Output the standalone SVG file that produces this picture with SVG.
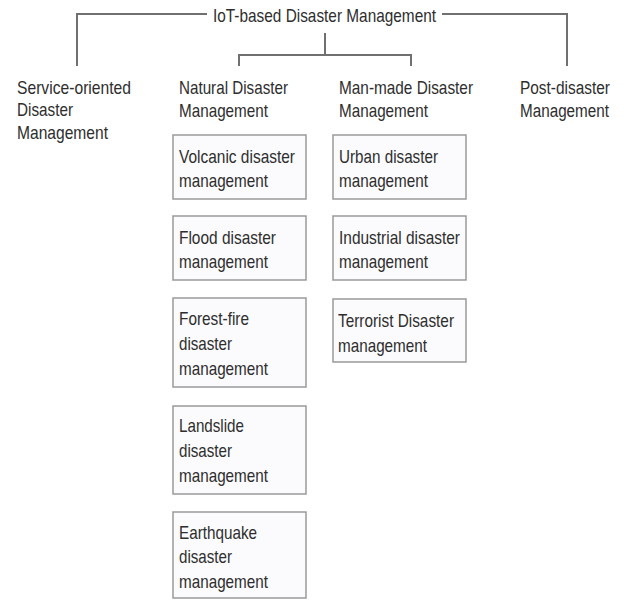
<svg xmlns="http://www.w3.org/2000/svg" width="629" height="601" viewBox="0 0 629 601">
<style>
  .t { font-family: "Liberation Sans", Arial, sans-serif; font-size: 19px; fill: #2e2e2e; }
  .s { font-size: 18px; }
  .c { fill: none; stroke: #707070; stroke-width: 2; }
  .b { fill: #fbfbfd; stroke: #9a9a9a; stroke-width: 1.5; }
</style>
<rect width="629" height="601" fill="#ffffff"/>
<g id="connectors">
  <polyline class="c" points="77,66 77,14 207,14"/>
  <polyline class="c" points="442,14 567,14 567,66"/>
  <line class="c" x1="325" y1="33" x2="325" y2="55"/>
  <polyline class="c" points="239,66 239,55 411,55 411,66"/>
</g>
<g id="root">
  <text class="t" x="213" y="22" textLength="223" lengthAdjust="spacingAndGlyphs">IoT-based Disaster Management</text>
</g>
<g id="service">
  <text class="t" x="17" y="94" textLength="114" lengthAdjust="spacingAndGlyphs">Service-oriented</text>
  <text class="t" x="17" y="116" textLength="56" lengthAdjust="spacingAndGlyphs">Disaster</text>
  <text class="t" x="17" y="139" textLength="91" lengthAdjust="spacingAndGlyphs">Management</text>
</g>
<g id="natural">
  <text class="t" x="179" y="94" textLength="109" lengthAdjust="spacingAndGlyphs">Natural Disaster</text>
  <text class="t" x="179" y="117" textLength="89" lengthAdjust="spacingAndGlyphs">Management</text>
</g>
<g id="manmade">
  <text class="t" x="339" y="94" textLength="134" lengthAdjust="spacingAndGlyphs">Man-made Disaster</text>
  <text class="t" x="339" y="117" textLength="89" lengthAdjust="spacingAndGlyphs">Management</text>
</g>
<g id="post">
  <text class="t s" x="520" y="94" textLength="90" lengthAdjust="spacingAndGlyphs">Post-disaster</text>
  <text class="t s" x="520" y="117" textLength="89" lengthAdjust="spacingAndGlyphs">Management</text>
</g>
<g id="volcanic">
  <rect class="b" x="173" y="135" width="133" height="64"/>
  <text class="t" x="179" y="163" textLength="116" lengthAdjust="spacingAndGlyphs">Volcanic disaster</text>
  <text class="t" x="179" y="187" textLength="89" lengthAdjust="spacingAndGlyphs">management</text>
</g>
<g id="flood">
  <rect class="b" x="173" y="216" width="133" height="64"/>
  <text class="t" x="179" y="244" textLength="97" lengthAdjust="spacingAndGlyphs">Flood disaster</text>
  <text class="t" x="179" y="268" textLength="89" lengthAdjust="spacingAndGlyphs">management</text>
</g>
<g id="forest">
  <rect class="b" x="173" y="298" width="133" height="89"/>
  <text class="t" x="179" y="325" textLength="70" lengthAdjust="spacingAndGlyphs">Forest-fire</text>
  <text class="t" x="179" y="350" textLength="53" lengthAdjust="spacingAndGlyphs">disaster</text>
  <text class="t" x="179" y="375" textLength="89" lengthAdjust="spacingAndGlyphs">management</text>
</g>
<g id="landslide">
  <rect class="b" x="173" y="406" width="133" height="88"/>
  <text class="t" x="179" y="432" textLength="65" lengthAdjust="spacingAndGlyphs">Landslide</text>
  <text class="t" x="179" y="457" textLength="53" lengthAdjust="spacingAndGlyphs">disaster</text>
  <text class="t" x="179" y="482" textLength="89" lengthAdjust="spacingAndGlyphs">management</text>
</g>
<g id="earthquake">
  <rect class="b" x="173" y="512" width="133" height="86"/>
  <text class="t" x="179" y="539" textLength="78" lengthAdjust="spacingAndGlyphs">Earthquake</text>
  <text class="t" x="179" y="563" textLength="53" lengthAdjust="spacingAndGlyphs">disaster</text>
  <text class="t" x="179" y="588" textLength="89" lengthAdjust="spacingAndGlyphs">management</text>
</g>
<g id="urban">
  <rect class="b" x="333" y="135" width="133" height="64"/>
  <text class="t" x="339" y="163" textLength="99" lengthAdjust="spacingAndGlyphs">Urban disaster</text>
  <text class="t" x="339" y="187" textLength="89" lengthAdjust="spacingAndGlyphs">management</text>
</g>
<g id="industrial">
  <rect class="b" x="333" y="216" width="133" height="64"/>
  <text class="t" x="339" y="244" textLength="121" lengthAdjust="spacingAndGlyphs">Industrial disaster</text>
  <text class="t" x="339" y="268" textLength="89" lengthAdjust="spacingAndGlyphs">management</text>
</g>
<g id="terrorist">
  <rect class="b" x="333" y="299" width="133" height="63"/>
  <text class="t" x="338" y="327" textLength="116" lengthAdjust="spacingAndGlyphs">Terrorist Disaster</text>
  <text class="t" x="338" y="352" textLength="89" lengthAdjust="spacingAndGlyphs">management</text>
</g>
</svg>
